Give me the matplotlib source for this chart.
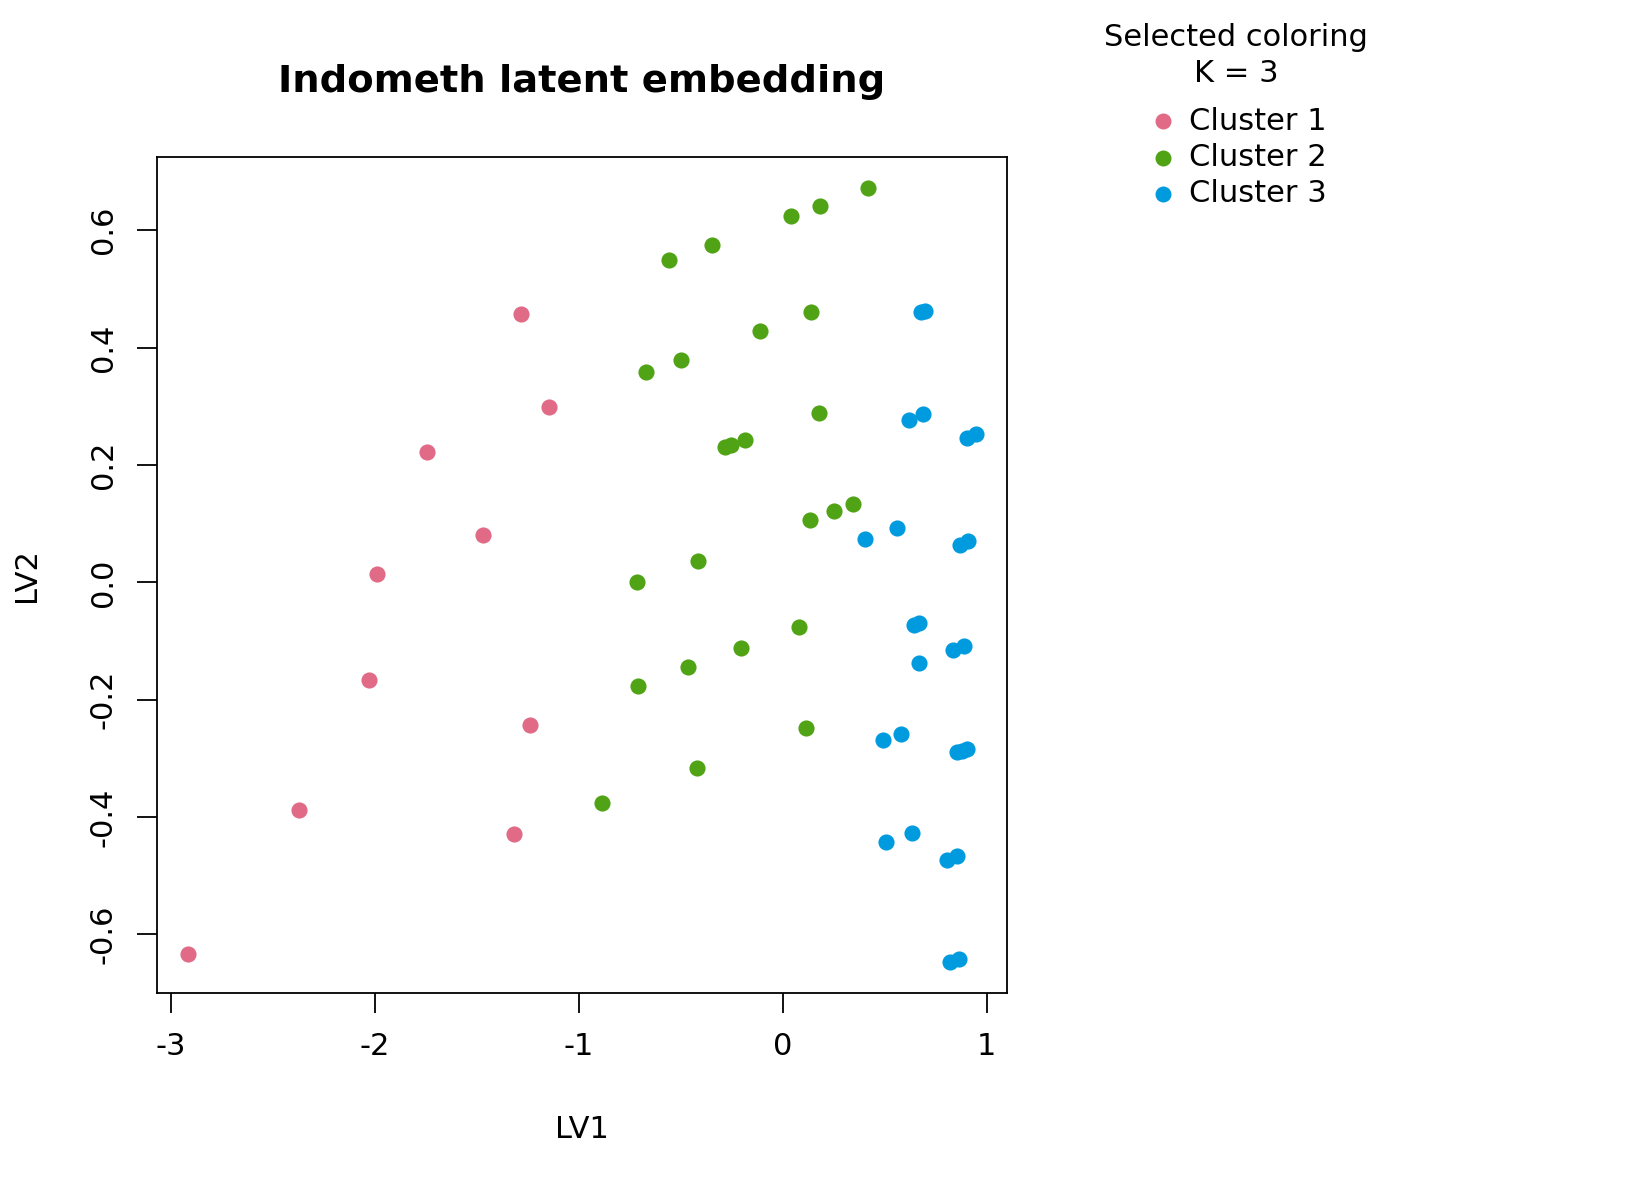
import numpy as np
import matplotlib
matplotlib.use("Agg")
import matplotlib.pyplot as plt
from matplotlib.lines import Line2D

# ── Data ───────────────────────────────────────────────────────────
c1_x = [-2.913, -2.372, -1.316, -1.240, -2.026, -1.990, -1.469, -1.745, -1.148, -1.281]
c1_y = [-0.633, -0.388, -0.429, -0.243, -0.167, 0.014, 0.080, 0.222, 0.298, 0.457]

c2_x = [0.418, 0.184, 0.041, -0.347, -0.556, 0.138, -0.112, -0.500, -0.668, 0.179,
        -0.184, -0.281, -0.255, 0.342, 0.250, 0.133, -0.413, -0.714, 0.082, -0.204,
        -0.464, -0.709, 0.112, -0.418, -0.888]
c2_y = [0.672, 0.642, 0.624, 0.574, 0.550, 0.461, 0.429, 0.379, 0.358, 0.289,
        0.243, 0.230, 0.234, 0.133, 0.122, 0.106, 0.037, 0.000, -0.076, -0.112,
        -0.145, -0.176, -0.248, -0.316, -0.376]

c3_x = [0.680, 0.695, 0.619, 0.688, 0.904, 0.945, 0.404, 0.561, 0.868, 0.909,
        0.643, 0.669, 0.835, 0.888, 0.667, 0.490, 0.581, 0.852, 0.878, 0.904,
        0.507, 0.636, 0.803, 0.855, 0.819, 0.865]
c3_y = [0.461, 0.463, 0.277, 0.286, 0.246, 0.252, 0.073, 0.093, 0.064, 0.070,
        -0.073, -0.069, -0.116, -0.109, -0.138, -0.269, -0.258, -0.289, -0.287, -0.284,
        -0.443, -0.427, -0.473, -0.467, -0.647, -0.641]

labels = ["Cluster 1", "Cluster 2", "Cluster 3"]
colors = ["#E16A86", "#50A315", "#009ADE"]

W, H = 1632, 1190
FS = 22
plt.rcParams["font.family"] = "DejaVu Sans"

fig = plt.figure(figsize=(W / 100, H / 100), dpi=100)
# axes box in pixels: left 157, right 1007, top 157, bottom 993
ax = fig.add_axes([157 / W, 1 - 993 / H, (1007 - 157) / W, (993 - 157) / H])

for xs, ys, col in zip([c1_x, c2_x, c3_x], [c1_y, c2_y, c3_y], colors):
    ax.scatter(xs, ys, s=135, color=col, linewidths=0, zorder=3)

# R-style 4% padding
all_x = np.concatenate([c1_x, c2_x, c3_x])
all_y = np.concatenate([c1_y, c2_y, c3_y])
rx = all_x.max() - all_x.min()
ry = all_y.max() - all_y.min()
ax.set_xlim(all_x.min() - 0.04 * rx, all_x.max() + 0.04 * rx)
ax.set_ylim(all_y.min() - 0.04 * ry, all_y.max() + 0.04 * ry)

ax.set_xticks([-3, -2, -1, 0, 1])
ax.set_xticklabels(["-3", "-2", "-1", "0", "1"])
ax.set_yticks([-0.6, -0.4, -0.2, 0.0, 0.2, 0.4, 0.6])
ax.set_yticklabels(["-0.6", "-0.4", "-0.2", "0.0", "0.2", "0.4", "0.6"])
ax.tick_params(length=14.4, width=1.3, labelsize=FS, pad=14, direction="out")
for lab in ax.get_yticklabels():
    lab.set_rotation(90)
    lab.set_va("center")
for sp in ax.spines.values():
    sp.set_linewidth(1.3)

# title and axis labels
fig.text(582 / W, 1 - 82 / H, "Indometh latent embedding", ha="center", va="center",
         fontsize=27.7, fontweight="bold")
fig.text(582 / W, 1 - 1129 / H, "LV1", ha="center", va="center", fontsize=FS)
fig.text(26 / W, 1 - 575 / H, "LV2", ha="center", va="center", fontsize=FS, rotation=90)

# legend
fig.text(1236 / W, 1 - 37 / H, "Selected coloring", ha="center", va="center", fontsize=FS)
fig.text(1236 / W, 1 - 73 / H, "K = 3", ha="center", va="center", fontsize=FS)
for i, (lab, col) in enumerate(zip(labels, colors)):
    yy = 1 - (121 + 36.5 * i) / H
    fig.add_artist(Line2D([1163 / W], [yy], marker="o", markersize=11.5, color=col,
                          markeredgewidth=0, linestyle="none", transform=fig.transFigure))
    fig.text(1189 / W, yy, lab, ha="left", va="center", fontsize=FS)

fig.savefig("out.png", dpi=100)
